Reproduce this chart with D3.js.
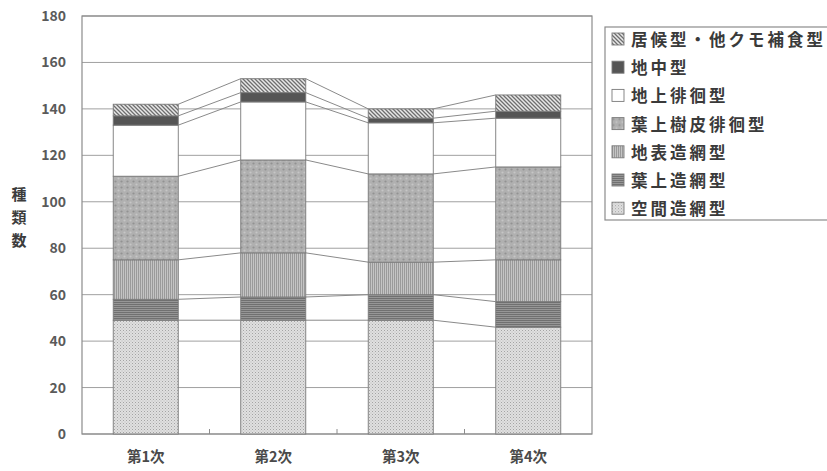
<!DOCTYPE html>
<html>
<head>
<meta charset="utf-8">
<script src="https://cdn.jsdelivr.net/npm/d3@7"></script>
<style>
  html, body { margin: 0; padding: 0; background: #fff; }
  svg { display: block; }
  text { font-family: "Noto Sans CJK JP", "Noto Sans", sans-serif; }
</style>
</head>
<body>
<svg id="chart" width="827" height="471"></svg>
<script>
// Survey rounds (x axis)
const categories = ["第1次", "第2次", "第3次", "第4次"];

// Guild names, stacked from bottom to top
const guilds = ["空間造網型", "葉上造網型", "地表造網型", "葉上樹皮徘徊型", "地上徘徊型", "地中型", "居候型・他クモ補食型"];

// Number of species per guild for each survey round
const kukanZomo      = [49, 49, 49, 46];
const yojoZomo       = [ 9, 10, 11, 11];
const chihyoZomo     = [17, 19, 14, 18];
const yojoJuhiHaikai = [36, 40, 38, 40];
const chijoHaikai    = [22, 25, 22, 21];
const chichu         = [ 4,  4,  2,  3];
const isoro          = [ 5,  6,  4,  7];

// Y axis ticks
const yTicks = [0, 20, 40, 60, 80, 100, 120, 140, 160, 180];
const yTitle = "種類数";

const seriesValues = [kukanZomo, yojoZomo, chihyoZomo, yojoJuhiHaikai, chijoHaikai, chichu, isoro];

const rows = categories.map((c, i) => {
  const r = { cat: c };
  guilds.forEach((g, k) => { r[g] = seriesValues[k][i]; });
  return r;
});

const svg = d3.select("#chart");
const plot = { left: 82, right: 592, top: 16, bottom: 434 };

const x = d3.scaleBand().domain(categories)
  .range([plot.left, plot.right]).paddingInner(0.49).paddingOuter(0.245);
const y = d3.scaleLinear().domain([0, 180]).range([plot.bottom, plot.top]);

// ---- fill patterns ----
const defs = svg.append("defs");
function pattern(id, w, h, bg, draw) {
  const p = defs.append("pattern").attr("id", id).attr("patternUnits", "userSpaceOnUse")
    .attr("width", w).attr("height", h);
  p.append("rect").attr("width", w).attr("height", h).attr("fill", bg);
  draw(p);
}
// fine dotted lattice
pattern("pKukan", 3, 3, "#e0e0e0", p => {
  p.append("rect").attr("x", 0).attr("y", 0).attr("width", 1).attr("height", 1).attr("fill", "#a4a4a4");
  p.append("rect").attr("x", 1.5).attr("y", 1.5).attr("width", 1).attr("height", 1).attr("fill", "#b8b8b8");
});
// dark horizontal lines
pattern("pYojo", 4, 2, "#969696", p => {
  p.append("rect").attr("width", 4).attr("height", 1).attr("fill", "#707070");
});
// vertical lines
pattern("pChihyo", 2, 4, "#c4c4c4", p => {
  p.append("rect").attr("width", 1).attr("height", 4).attr("fill", "#9a9a9a");
});
// dotted grey
pattern("pJuhi", 6, 6, "#b0b0b0", p => {
  p.append("circle").attr("cx", 1.5).attr("cy", 1.5).attr("r", 1.1).attr("fill", "#929292");
  p.append("circle").attr("cx", 4.5).attr("cy", 4.5).attr("r", 1.1).attr("fill", "#c6c6c6");
});
// diagonal hatch
pattern("pIsoro", 4, 4, "#e8e8e8", p => {
  p.append("path").attr("d", "M-1,-1 L5,5 M-1,3 L1,5 M3,-1 L5,1")
    .attr("stroke", "#6e6e6e").attr("stroke-width", 1.3);
});

const fills = ["url(#pKukan)", "url(#pYojo)", "url(#pChihyo)", "url(#pJuhi)", "#ffffff", "#555555", "url(#pIsoro)"];

// ---- gridlines & frame ----
svg.append("g").selectAll("line").data(yTicks).join("line")
  .attr("x1", plot.left).attr("x2", plot.right)
  .attr("y1", d => y(d)).attr("y2", d => y(d))
  .attr("stroke", "#a0a0a0").attr("stroke-width", 1);
svg.append("rect")
  .attr("x", plot.left).attr("y", plot.top)
  .attr("width", plot.right - plot.left).attr("height", plot.bottom - plot.top)
  .attr("fill", "none").attr("stroke", "#8c8c8c").attr("stroke-width", 1.2);

// small category-boundary ticks on the baseline
const step = x.step();
svg.append("g").selectAll("line").data(categories.slice(1)).join("line")
  .attr("x1", d => x(d) - (step - x.bandwidth()) / 2)
  .attr("x2", d => x(d) - (step - x.bandwidth()) / 2)
  .attr("y1", plot.bottom).attr("y2", plot.bottom - 5)
  .attr("stroke", "#8c8c8c");

// ---- stacked bars ----
const stacked = d3.stack().keys(guilds)(rows);

const gBars = svg.append("g");
stacked.forEach((s, k) => {
  gBars.append("g").selectAll("rect").data(s).join("rect")
    .attr("x", d => x(d.data.cat))
    .attr("width", x.bandwidth())
    .attr("y", d => y(d[1]))
    .attr("height", d => y(d[0]) - y(d[1]))
    .attr("fill", fills[k])
    .attr("stroke", "#7a7a7a").attr("stroke-width", 0.9);
});

// ---- series lines joining the segment tops ----
const gLinks = svg.append("g");
stacked.forEach(s => {
  for (let i = 0; i < s.length - 1; i++) {
    gLinks.append("line")
      .attr("x1", x(categories[i]) + x.bandwidth())
      .attr("y1", y(s[i][1]))
      .attr("x2", x(categories[i + 1]))
      .attr("y2", y(s[i + 1][1]))
      .attr("stroke", "#8a8a8a").attr("stroke-width", 1);
  }
});

// ---- axes ----
const yAxis = d3.axisLeft(y).tickValues(yTicks).tickSize(0).tickPadding(16);
svg.append("g").attr("transform", `translate(${plot.left},0)`).call(yAxis)
  .call(g => g.select(".domain").remove())
  .selectAll("text")
  .attr("font-family", "'Liberation Sans', Arial, sans-serif")
  .attr("font-size", 14).attr("font-weight", "bold").attr("fill", "#5a5a5a");

const xAxis = d3.axisBottom(x).tickSize(0).tickPadding(18);
svg.append("g").attr("transform", `translate(0,${plot.bottom})`).call(xAxis)
  .call(g => g.select(".domain").remove())
  .selectAll("text")
  .attr("font-family", "'Noto Sans CJK JP', sans-serif")
  .attr("font-size", 14.5).attr("font-weight", "bold").attr("fill", "#4a4a4a");

// vertical axis title, characters stacked
svg.append("g").selectAll("text").data(Array.from(yTitle)).join("text")
  .attr("x", 19).attr("y", (d, i) => 193 + i * 23)
  .attr("text-anchor", "middle").attr("dominant-baseline", "central")
  .attr("font-size", 15).attr("font-weight", "bold").attr("fill", "#3c3c3c")
  .text(d => d);

// ---- legend (top guild first) ----
const legend = svg.append("g");
legend.append("rect").attr("x", 605).attr("y", 27).attr("width", 240).attr("height", 193)
  .attr("fill", "#fff").attr("stroke", "#8c8c8c").attr("stroke-width", 1.2);
const legendOrder = d3.range(guilds.length).reverse();
const li = legend.selectAll("g.item").data(legendOrder).join("g")
  .attr("class", "item")
  .attr("transform", (d, i) => `translate(612,${39 + i * 28.2})`);
li.append("rect").attr("x", 0).attr("y", -6).attr("width", 12).attr("height", 12)
  .attr("fill", d => fills[d]).attr("stroke", "#7a7a7a").attr("stroke-width", 0.9);
li.append("text").attr("x", 19).attr("y", 0).attr("dominant-baseline", "central")
  .attr("font-size", 16.5).attr("font-weight", "bold").attr("letter-spacing", 3)
  .attr("fill", "#3a3a3a")
  .text(d => guilds[d]);
</script>
</body>
</html>
